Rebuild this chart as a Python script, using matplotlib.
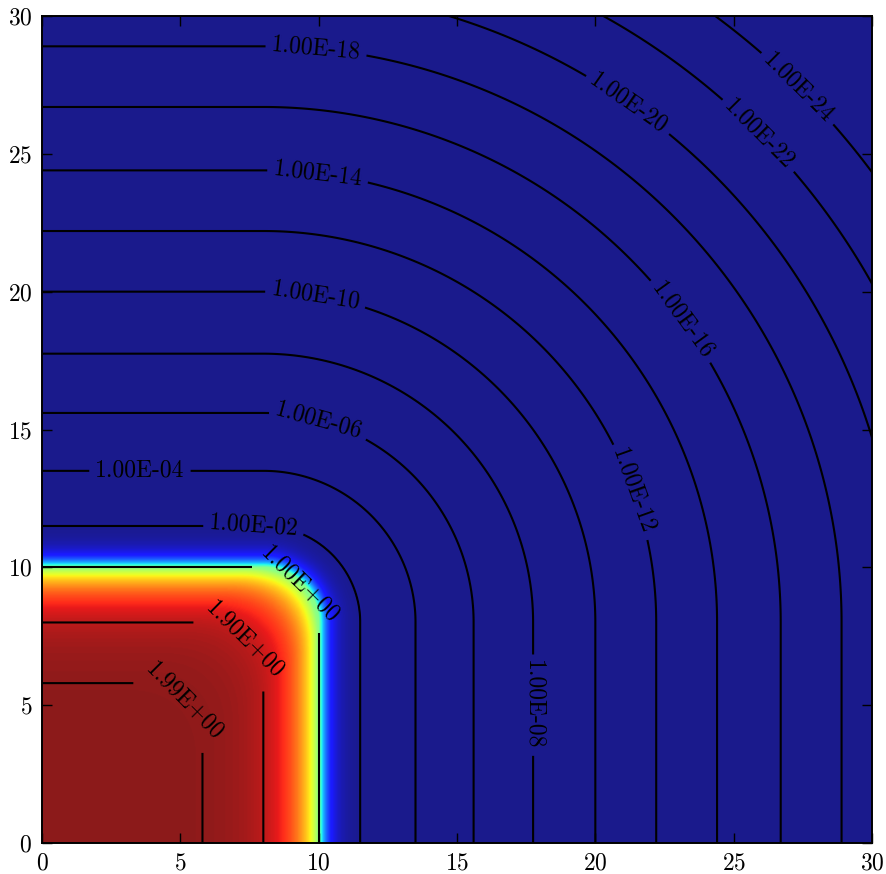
import numpy as np
import matplotlib
matplotlib.use("Agg")
import matplotlib.pyplot as plt

plt.rcParams['font.family'] = 'cmr10'
plt.rcParams['axes.unicode_minus'] = False
plt.rcParams['axes.formatter.use_mathtext'] = True

# Contour levels and the signed distance from the square edge (x = 10 / y = 10)
# at which each level sits along the axes.
levels = [1e-24, 1e-22, 1e-20, 1e-18, 1e-16, 1e-14, 1e-12, 1e-10,
          1e-08, 1e-06, 1e-04, 1e-02, 1.0, 1.9, 1.99]
level_offsets = [25.4, 23.2, 21.0, 18.9, 16.7, 14.4, 12.2, 10.0,
                 7.75, 5.6, 3.5, 1.5, 0.0, -2.0, -4.2]

# Label anchor points (data coordinates), one per contour level
label_points = [(27.32, 27.38), (25.73, 25.5), (21.14, 26.73), (9.9, 28.69),
                (22.91, 18.79), (9.97, 24.27), (21.1, 12.66), (9.87, 19.7),
                (17.85, 5.0), (9.97, 15.16), (3.54, 13.57), (7.66, 11.57),
                (9.58, 9.61), (7.34, 7.36), (5.1, 5.08)]

c_max = 2.0          # peak value inside the square
half_side = 10.0     # square occupies [0, 10] x [0, 10] in this quadrant
corner_radius = 2.0  # rounding of the square's corner (outside)
inner_blend = 2.6    # smooth-min width for the inner corner
xticks = [0, 5, 10, 15, 20, 25, 30]
yticks = [0, 5, 10, 15, 20, 25, 30]


def extrap_interp(s, xp, fp):
    """Piecewise-linear interpolation with linear extension past both ends."""
    xp = np.asarray(xp, float)
    fp = np.asarray(fp, float)
    out = np.interp(s, xp, fp)
    lo = s < xp[0]
    hi = s > xp[-1]
    out[lo] = fp[0] + (s[lo] - xp[0]) * (fp[1] - fp[0]) / (xp[1] - xp[0])
    out[hi] = fp[-1] + (s[hi] - xp[-1]) * (fp[-1] - fp[-2]) / (xp[-1] - xp[-2])
    return out


# Grid and rounded-square signed distance
n = 901
x = np.linspace(0, 30, n)
y = np.linspace(0, 30, n)
X, Y = np.meshgrid(x, y)
qx = X - (half_side - corner_radius)
qy = Y - (half_side - corner_radius)
s_box = (np.hypot(np.maximum(qx, 0), np.maximum(qy, 0))
         + np.minimum(np.maximum(qx, qy), 0) - corner_radius)

# Inside: smooth minimum of the depths below the two edges
a = half_side - X
b = half_side - Y
h = np.clip(inner_blend - np.abs(a - b), 0, None) / inner_blend
s_in = -(np.minimum(a, b) - h * h * inner_blend / 4.0)
s = np.where(s_box > 0, s_box, np.minimum(s_in, 0.0))

lv = np.array(levels)
off = np.array(level_offsets)
outside = off >= 0
inside = off <= 0

# Outside: log10(value) vs distance; inside: log10(c_max - value) vs distance
out_x = off[outside][::-1]
out_f = np.log10(lv[outside])[::-1]
in_x = off[inside][::-1]
in_f = np.log10(c_max - lv[inside])[::-1]

Z = np.empty_like(s)
m_out = s >= 0
Z[m_out] = 10.0 ** extrap_interp(s[m_out], out_x, out_f)
Z[~m_out] = c_max - 10.0 ** extrap_interp(s[~m_out], in_x, in_f)

fig = plt.figure(figsize=(8.86, 8.74), dpi=100)
ax = fig.add_axes([42 / 886, 31 / 874, 830 / 886, 827 / 874])

ax.imshow(Z, extent=[0, 30, 0, 30], origin='lower', cmap='jet',
          vmin=0, vmax=c_max, alpha=0.9, interpolation='bilinear',
          aspect='auto')
cs = ax.contour(X, Y, Z, levels=levels, colors='k', linewidths=1.5)
ax.set_xlim(0, 30)
ax.set_ylim(0, 30)
ax.set_xticks(xticks)
ax.set_yticks(yticks)
ax.tick_params(direction='in', top=True, right=True, length=7, width=1,
               labelsize=17, pad=7)
for sp in ax.spines.values():
    sp.set_linewidth(1.4)

ax.clabel(cs, fmt=lambda v: '%.2E' % v, manual=label_points, inline=True,
          inline_spacing=6, fontsize=17)

fig.savefig('out.png', dpi=100)
